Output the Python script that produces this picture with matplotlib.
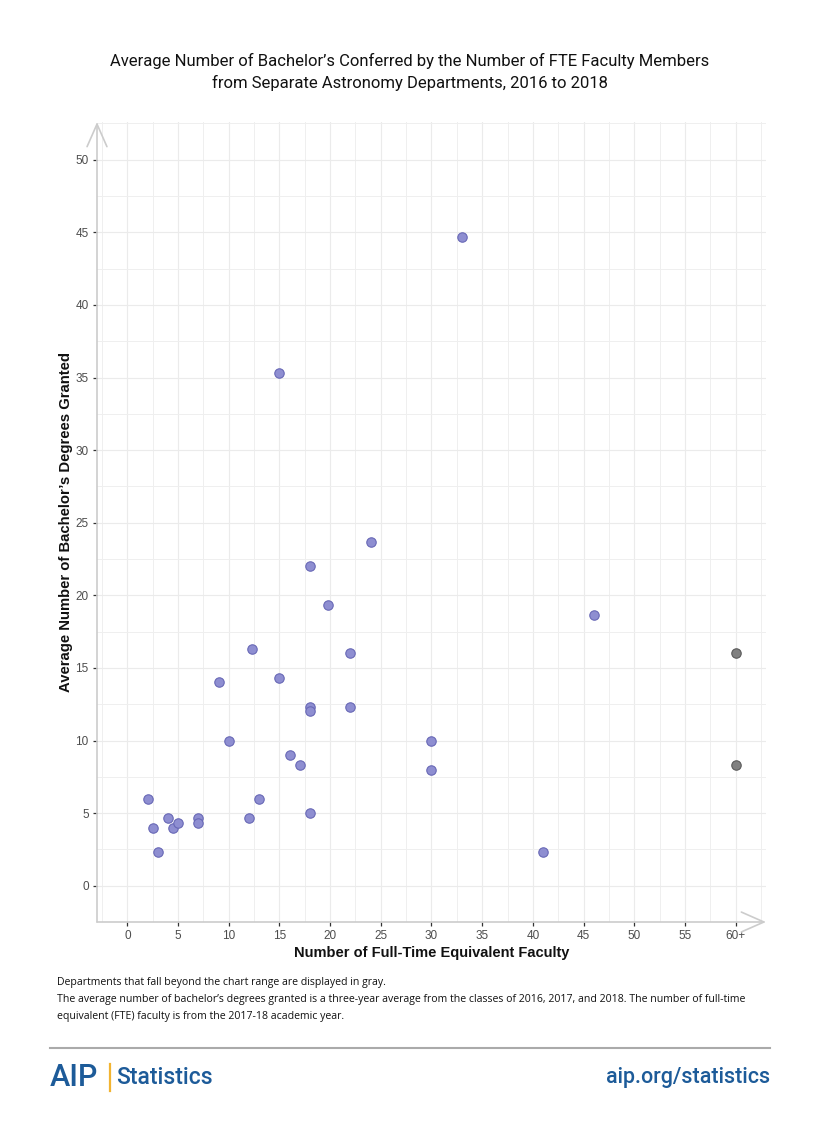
import matplotlib
matplotlib.use("Agg")
import matplotlib.pyplot as plt
from matplotlib.ticker import MultipleLocator, FixedLocator
from matplotlib.lines import Line2D

# ---- data ----
fte_blue = [2, 2.5, 3, 4, 4.5, 5, 7, 7, 9, 10, 12, 12.3, 13, 15, 15, 16, 17,
            18, 18, 18, 18, 19.8, 22, 22, 24, 30, 30, 33, 41, 46]
deg_blue = [6, 4, 2.33, 4.67, 4, 4.33, 4.67, 4.33, 14, 10, 4.67, 16.33, 6, 14.33,
            35.33, 9, 8.33, 22, 12.33, 12, 5, 19.33, 16, 12.33, 23.67, 10, 8,
            44.67, 2.33, 18.67]
fte_gray = [60, 60]
deg_gray = [16, 8.33]

x_ticks = [0, 5, 10, 15, 20, 25, 30, 35, 40, 45, 50, 55, 60]
x_tick_labels = ["0", "5", "10", "15", "20", "25", "30", "35", "40", "45", "50", "55", "60+"]
y_ticks = [0, 5, 10, 15, 20, 25, 30, 35, 40, 45, 50]

title = ("Average Number of Bachelor\u2019s Conferred by the Number of FTE Faculty Members\n"
         "from Separate Astronomy Departments, 2016 to 2018")
x_label = "Number of Full-Time Equivalent Faculty"
y_label = "Average Number of Bachelor\u2019s Degrees Granted"
notes = ["Departments that fall beyond the chart range are displayed in gray.",
         "The average number of bachelor\u2019s degrees granted is a three-year average from the classes of 2016, 2017, and 2018. The number of full-time",
         "equivalent (FTE) faculty is from the 2017-18 academic year."]

narrow = ["Roboto", "DejaVu Sans"]
sans = ["Liberation Sans", "DejaVu Sans"]
note_font = ["Open Sans", "Lato", "DejaVu Sans"]

fig = plt.figure(figsize=(8.2, 11.29), dpi=100)
ax = fig.add_axes([97/820, 1-922/1129, (766-97)/820, (922-122)/1129])

ax.set_xlim(-3.0, 63.0)
ax.set_ylim(-2.5, 52.6)

ax.xaxis.set_major_locator(FixedLocator(x_ticks))
ax.set_xticklabels(x_tick_labels)
ax.xaxis.set_minor_locator(MultipleLocator(2.5))
ax.yaxis.set_major_locator(FixedLocator(y_ticks))
ax.yaxis.set_minor_locator(MultipleLocator(2.5))

ax.grid(which="major", color="#ebebeb", lw=0.85)
ax.grid(which="minor", color="#efefef", lw=0.7)
ax.set_axisbelow(True)
for s in ax.spines.values():
    s.set_visible(False)

ax.tick_params(which="major", length=3, width=0.9, color="#333333",
               labelcolor="#4d4d4d", labelsize=8.5, pad=3)
ax.tick_params(which="minor", length=0)
for lab in ax.get_xticklabels() + ax.get_yticklabels():
    lab.set_fontfamily(sans)

ax.scatter(fte_blue, deg_blue, s=46, facecolor="#8e8ed1", edgecolor="#6868b6",
           linewidth=0.8, zorder=3)
ax.scatter(fte_gray, deg_gray, s=46, facecolor="#808080", edgecolor="#5a5a5a",
           linewidth=0.8, zorder=3)

# axis lines with open arrowheads
for xy in [(0, 1), (1, 0)]:
    ax.annotate("", xy=xy, xytext=(0, 0), xycoords="axes fraction",
                arrowprops=dict(arrowstyle="->,head_length=1.25,head_width=0.55",
                                color="#cccccc", lw=1.2, shrinkA=0, shrinkB=0,
                                mutation_scale=13), annotation_clip=False)

ax.set_xlabel(x_label, fontsize=10.5, fontweight="bold", family=sans,
              color="#111111", labelpad=3)
ax.set_ylabel(y_label, fontsize=10.7, fontweight="bold", family=sans,
              color="#111111", labelpad=2)

fig.text(0.5, 1-72/1129, title, ha="center", va="center", fontsize=12,
         family=narrow, color="#111111", linespacing=1.5)

for i, t in enumerate(notes):
    fig.text(57/820, 1-(982+i*17.5)/1129, t, ha="left", va="center",
             fontsize=7.6, family=note_font, color="#111111")

fig.add_artist(Line2D([50/820, 770/820], [1-1048/1129, 1-1048/1129],
                      color="#aaaaaa", lw=1.5))

blue = "#1d5b99"
fig.text(50/820, 1-1078/1129, "AIP", ha="left", va="center", fontsize=22,
         family=narrow, fontweight="medium", color=blue)
fig.add_artist(Line2D([110/820, 110/820], [1-1091/1129, 1-1064/1129],
                      color="#f2b431", lw=1.6))
fig.text(116/820, 1-1078/1129, "Statistics", ha="left", va="center", fontsize=16.5,
         family=narrow, fontweight="medium", color=blue)
fig.text(770/820, 1-1078/1129, "aip.org/statistics", ha="right", va="center",
         fontsize=15.5, family=narrow, fontweight="medium", color=blue)

fig.savefig("out.png", dpi=100, facecolor="white")
